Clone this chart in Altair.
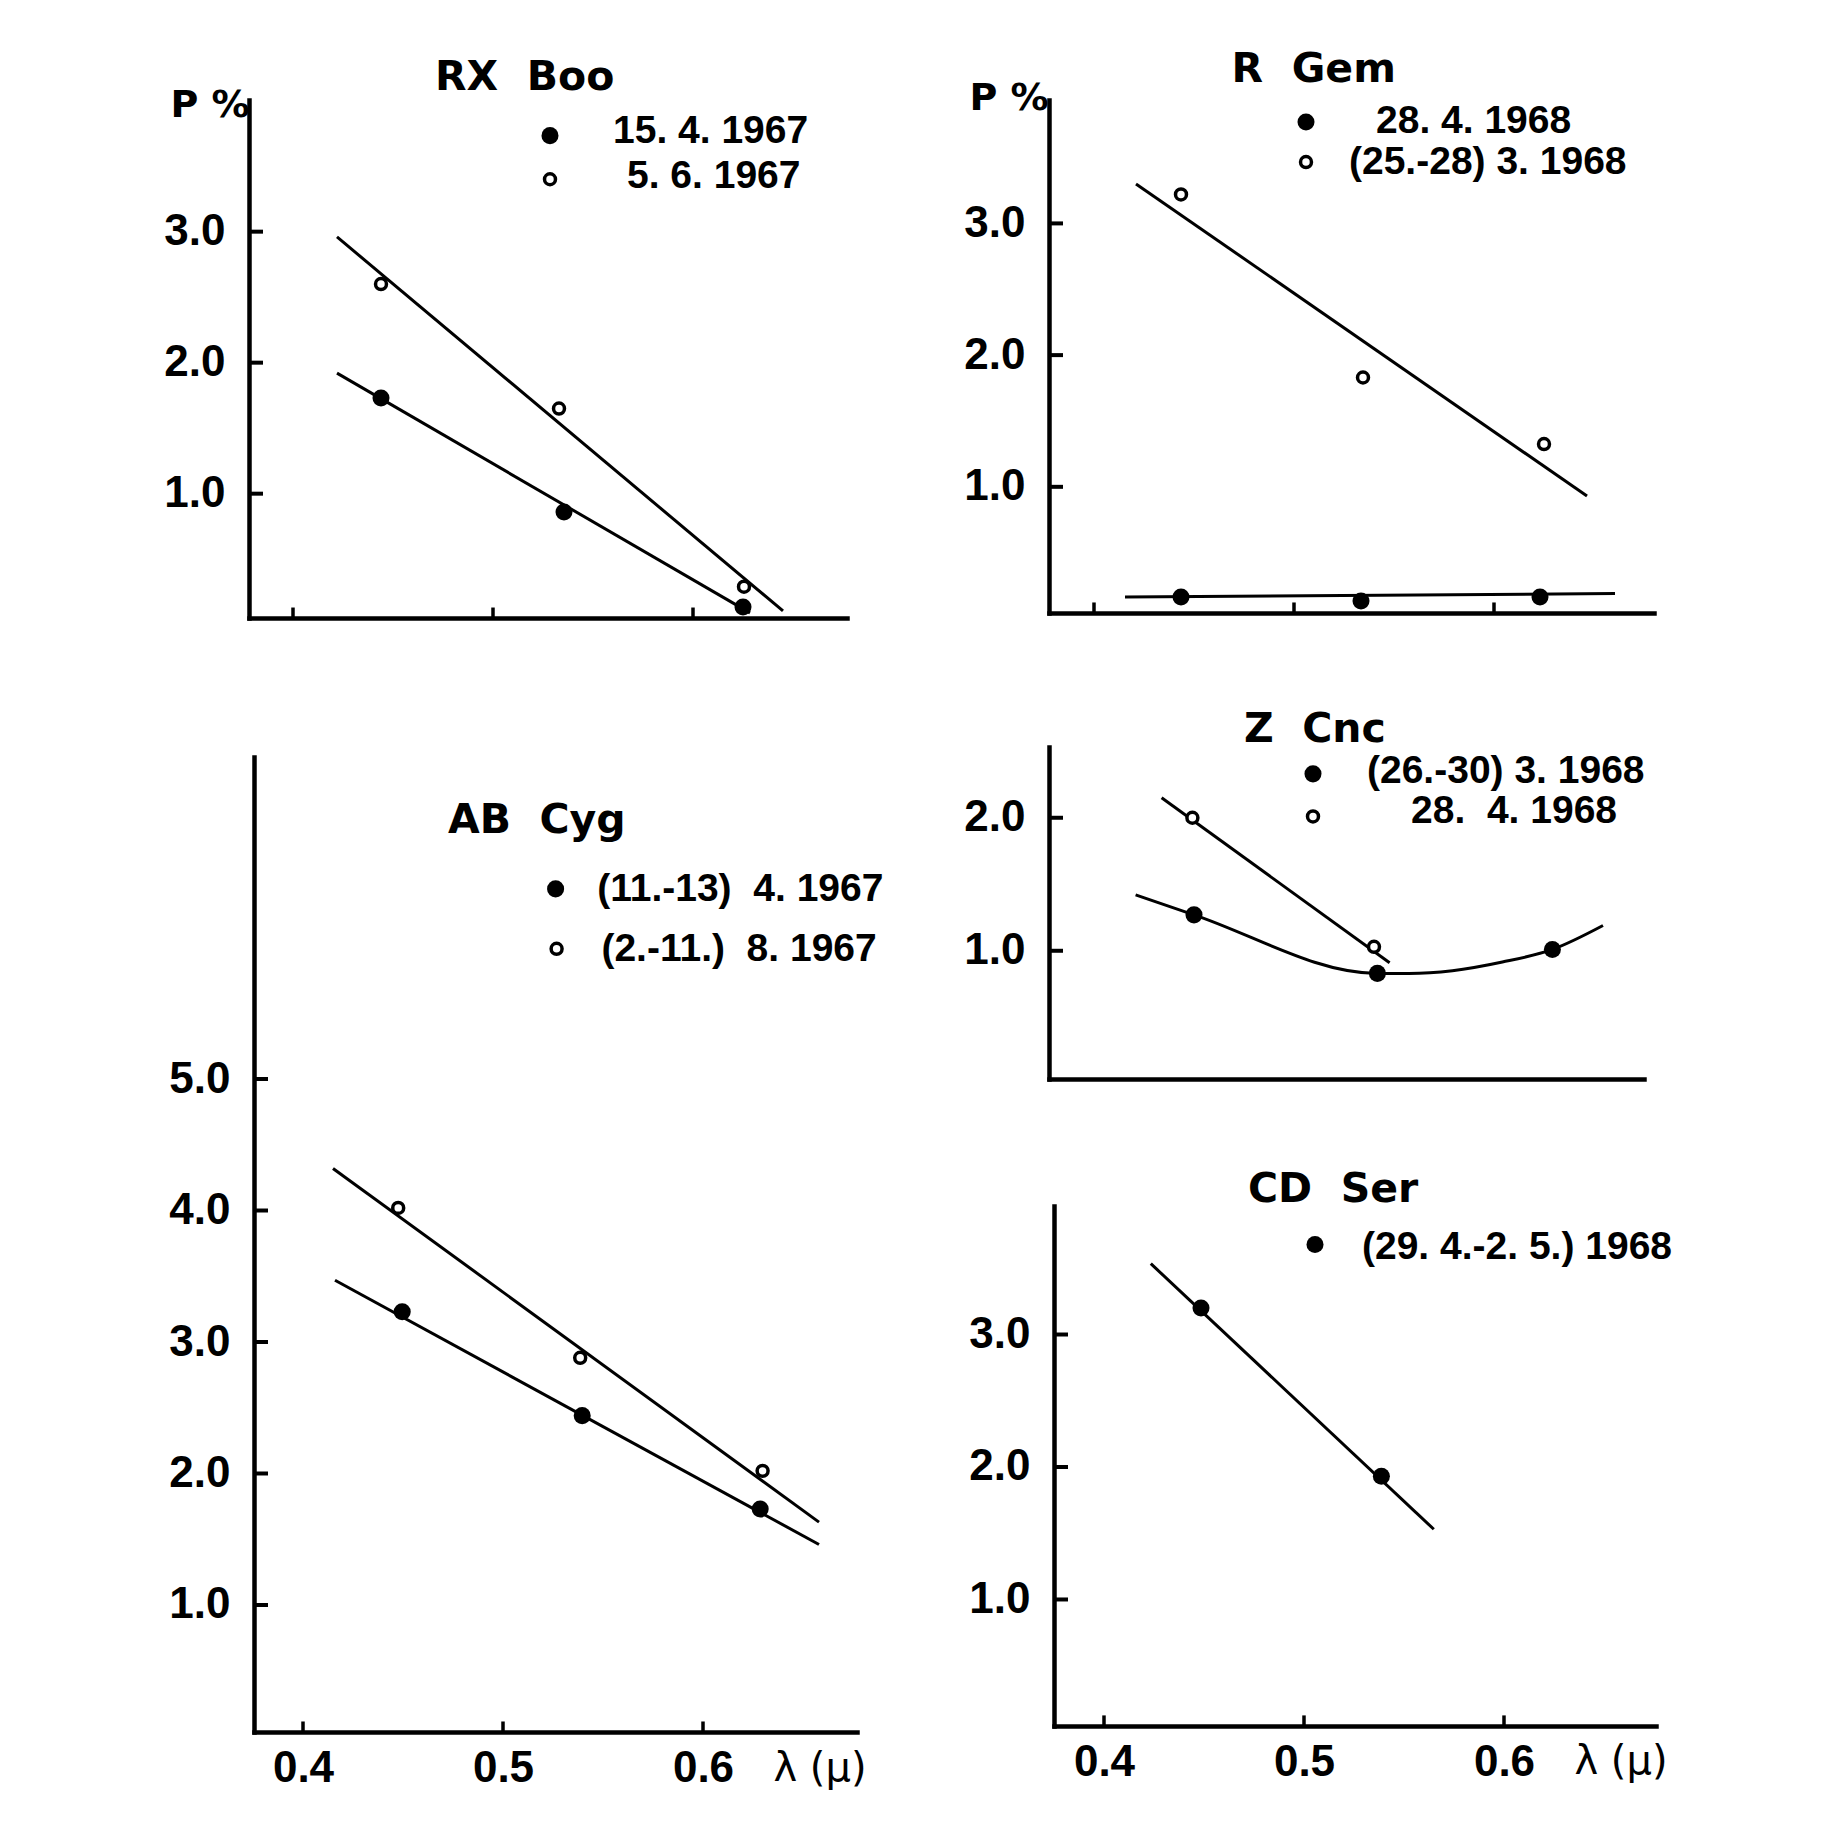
import altair as alt
import pandas as pd

NUM_FONT = "Liberation Sans, Arial, sans-serif"
TITLE_FONT = "DejaVu Sans, Liberation Sans, sans-serif"
NB = "\u00a0"

# ---------------- data ----------------
# RX Boo
rx_filled_x = [0.444, 0.5355, 0.625]
rx_filled_y = [1.73, 0.86, 0.135]
rx_open_x = [0.444, 0.533, 0.6255]
rx_open_y = [2.60, 1.65, 0.29]
rx_fitf_x = [0.422, 0.6285]
rx_fitf_y = [1.92, 0.09]
rx_fito_x = [0.422, 0.645]
rx_fito_y = [2.96, 0.105]

# R Gem
rg_filled_x = [0.4435, 0.5335, 0.623]
rg_filled_y = [0.163, 0.133, 0.163]
rg_open_x = [0.4435, 0.5345, 0.625]
rg_open_y = [3.22, 1.83, 1.325]
rg_fitf_x = [0.4155, 0.6605]
rg_fitf_y = [0.163, 0.19]
rg_fito_x = [0.421, 0.6465]
rg_fito_y = [3.30, 0.93]

# AB Cyg
ab_filled_x = [0.4496, 0.5396, 0.6286]
ab_filled_y = [3.23, 2.44, 1.73]
ab_open_x = [0.4476, 0.5386, 0.6298]
ab_open_y = [4.02, 2.88, 2.02]
ab_fitf_x = [0.416, 0.658]
ab_fitf_y = [3.47, 1.46]
ab_fito_x = [0.415, 0.658]
ab_fito_y = [4.32, 1.63]

# Z Cnc
zc_filled_x = [0.4475, 0.5392, 0.6267]
zc_filled_y = [1.27, 0.83, 1.01]
zc_open_x = [0.4467, 0.5375]
zc_open_y = [2.00, 1.03]
zc_fitf_x = [0.4183, 0.4475, 0.5392, 0.5550, 0.5767, 0.6017, 0.6267, 0.6520]
zc_fitf_y = [1.42, 1.27, 0.83, 0.83, 0.85, 0.915, 1.01, 1.19]
zc_fito_x = [0.4313, 0.5453]
zc_fito_y = [2.15, 0.91]

# CD Ser
cd_filled_x = [0.4485, 0.5387]
cd_filled_y = [3.20, 1.93]
cd_open_x = []
cd_open_y = []
cd_fitf_x = [0.4234, 0.5649]
cd_fitf_y = [3.535, 1.53]

x_tick_values = [0.4, 0.5, 0.6]

panels = [
    dict(key="rx", title="RX" + NB * 2 + "Boo", title_xy=(0.471, 4.17),
         xdom=[0.378, 0.677], ydom=[0.051, 4.005], width=598, height=518,
         yticks=[1.0, 2.0, 3.0], xlabels=False, xticks=True,
         filled=(rx_filled_x, rx_filled_y), opened=(rx_open_x, rx_open_y),
         fits=[(rx_fitf_x, rx_fitf_y), (rx_fito_x, rx_fito_y)],
         legend=[("f", 0.5285, 3.733, "15." + NB + "4." + NB + "1967", 0.560, 3.765),
                 ("o", 0.5285, 3.40, "5." + NB + "6." + NB + "1967", 0.567, 3.425)],
         pct=(0.3585, 3.96), lam=None),
    dict(key="ab", title="AB" + NB * 2 + "Cyg", title_xy=(0.4725, 6.96),
         xdom=[0.3755, 0.677], ydom=[0.034, 7.449], width=603, height=975,
         yticks=[1.0, 2.0, 3.0, 4.0, 5.0], xlabels=True, xticks=True,
         filled=(ab_filled_x, ab_filled_y), opened=(ab_open_x, ab_open_y),
         fits=[(ab_fitf_x, ab_fitf_y), (ab_fito_x, ab_fito_y)],
         legend=[("f", 0.5263, 6.446, "(11.-13)" + NB * 2 + "4." + NB + "1967", 0.5471, 6.446),
                 ("o", 0.5268, 5.99, "(2.-11.)" + NB * 2 + "8." + NB + "1967", 0.5492, 5.99)],
         pct=None, lam=(0.6585, -0.247)),
    dict(key="rg", title="R" + NB * 2 + "Gem", title_xy=(0.4688, 4.165),
         xdom=[0.3775, 0.68], ydom=[0.042, 3.937], width=605, height=513,
         yticks=[1.0, 2.0, 3.0], xlabels=False, xticks=True,
         filled=(rg_filled_x, rg_filled_y), opened=(rg_open_x, rg_open_y),
         fits=[(rg_fitf_x, rg_fitf_y), (rg_fito_x, rg_fito_y)],
         legend=[("f", 0.506, 3.77, "28." + NB + "4." + NB + "1968", 0.541, 3.777),
                 ("o", 0.506, 3.466, "(25.-28)" + NB + "3." + NB + "1968", 0.5275, 3.47)],
         pct=(0.3575, 3.945), lam=None),
    dict(key="zc", title="Z" + NB * 2 + "Cnc", title_xy=(0.4725, 2.66),
         xdom=[0.375, 0.6725], ydom=[0.036, 2.532], width=595, height=332,
         yticks=[1.0, 2.0], xlabels=False, xticks=False,
         filled=(zc_filled_x, zc_filled_y), opened=(zc_open_x, zc_open_y),
         fits=[(zc_fitf_x, zc_fitf_y), (zc_fito_x, zc_fito_y)],
         legend=[("f", 0.507, 2.33, "(26.-30)" + NB + "3." + NB + "1968", 0.534, 2.35),
                 ("o", 0.507, 2.01, "28." + NB * 2 + "4." + NB + "1968", 0.556, 2.05)],
         pct=None, lam=None),
    dict(key="cd", title="CD" + NB * 2 + "Ser", title_xy=(0.472, 4.09),
         xdom=[0.375, 0.676], ydom=[0.045, 3.970], width=602, height=520,
         yticks=[1.0, 2.0, 3.0], xlabels=True, xticks=True,
         filled=(cd_filled_x, cd_filled_y), opened=(cd_open_x, cd_open_y),
         fits=[(cd_fitf_x, cd_fitf_y)],
         legend=[("f", 0.5055, 3.68, "(29." + NB + "4.-2." + NB + "5.)" + NB + "1968", 0.529, 3.66)],
         pct=None, lam=(0.6585, -0.23)),
]


def build(p):
    xs = alt.Scale(domain=p["xdom"], nice=False, zero=False)
    ys = alt.Scale(domain=p["ydom"], nice=False, zero=False)
    common = dict(domain=True, domainColor="black", domainWidth=4.5, domainCap="square",
                  ticks=False, tickSize=0, grid=False, title=None,
                  labelFont=NUM_FONT, labelFontSize=44, labelFontWeight="bold",
                  labelColor="black", labelOverlap=False, labelFlush=False)
    if p["xlabels"]:
        xa = alt.Axis(values=x_tick_values, format=".1f", labelPadding=14, **common)
    else:
        xa = alt.Axis(labels=False, **common)
    ya = alt.Axis(values=p["yticks"], format=".1f", labelPadding=24, **common)

    def X():
        return alt.X("x:Q", scale=xs, axis=xa)

    def Y():
        return alt.Y("y:Q", scale=ys, axis=ya)

    layers = []
    xmin, ymin = p["xdom"][0], p["ydom"][0]

    # inward y ticks
    yt = pd.DataFrame({"y": p["yticks"], "x": [xmin] * len(p["yticks"]),
                       "x2": [xmin + 0.007] * len(p["yticks"])})
    layers.append(alt.Chart(yt).mark_rule(color="black", strokeWidth=4)
                  .encode(x=X(), x2="x2:Q", y=Y()))
    if p["xticks"]:
        xt = pd.DataFrame({"x": x_tick_values, "y": [ymin] * 3, "y2": [ymin + 0.08] * 3})
        layers.append(alt.Chart(xt).mark_rule(color="black", strokeWidth=3.5)
                      .encode(x=X(), y=Y(), y2="y2:Q"))

    # fit lines / curves
    rows = []
    for i, (fx, fy) in enumerate(p["fits"]):
        for a, b in zip(fx, fy):
            rows.append({"x": a, "y": b, "s": f"s{i}"})
    layers.append(alt.Chart(pd.DataFrame(rows))
                  .mark_line(color="black", strokeWidth=3, interpolate="monotone")
                  .encode(x=X(), y=Y(), detail="s:N"))

    # points (data + legend symbols)
    ox, oy = list(p["opened"][0]), list(p["opened"][1])
    fx, fy = list(p["filled"][0]), list(p["filled"][1])
    for kind, dx, dy, _, _, _ in p["legend"]:
        if kind == "o":
            ox.append(dx); oy.append(dy)
        else:
            fx.append(dx); fy.append(dy)
    if ox:
        layers.append(alt.Chart(pd.DataFrame({"x": ox, "y": oy}))
                      .mark_point(shape="circle", size=120, fill="white", fillOpacity=1,
                                  stroke="black", strokeWidth=3.5, opacity=1)
                      .encode(x=X(), y=Y()))
    layers.append(alt.Chart(pd.DataFrame({"x": fx, "y": fy}))
                  .mark_circle(size=290, color="black", opacity=1)
                  .encode(x=X(), y=Y()))

    # title
    tdf = pd.DataFrame({"x": [p["title_xy"][0]], "y": [p["title_xy"][1]], "t": [p["title"]]})
    layers.append(alt.Chart(tdf).mark_text(font=TITLE_FONT, fontSize=41, fontWeight="bold",
                                           align="left", baseline="middle", color="black")
                  .encode(x=X(), y=Y(), text="t:N"))
    # legend texts
    ldf = pd.DataFrame({"x": [e[4] for e in p["legend"]], "y": [e[5] for e in p["legend"]],
                        "t": [e[3] for e in p["legend"]]})
    layers.append(alt.Chart(ldf).mark_text(font=NUM_FONT, fontSize=39, fontWeight="bold",
                                           align="left", baseline="middle", color="black")
                  .encode(x=X(), y=Y(), text="t:N"))
    if p["pct"]:
        pdf = pd.DataFrame({"x": [p["pct"][0]], "y": [p["pct"][1]], "t": ["P" + NB + "%"]})
        layers.append(alt.Chart(pdf).mark_text(font=TITLE_FONT, fontSize=38, fontWeight="bold",
                                               align="center", baseline="middle", color="black")
                      .encode(x=X(), y=Y(), text="t:N"))
    if p["lam"]:
        mdf = pd.DataFrame({"x": [p["lam"][0]], "y": [p["lam"][1]], "t": ["λ" + NB + "(μ)"]})
        layers.append(alt.Chart(mdf).mark_text(font=TITLE_FONT, fontSize=40,
                                               align="center", baseline="middle", color="black")
                      .encode(x=X(), y=Y(), text="t:N"))

    return alt.layer(*layers).properties(width=p["width"], height=p["height"])


def spacer():
    d = pd.DataFrame({"v": [0]})
    return alt.Chart(d).mark_point(opacity=0).encode(
        x=alt.X("v:Q", axis=None), y=alt.Y("v:Q", axis=None)
    ).properties(width=1, height=1)


ch = {p["key"]: build(p) for p in panels}

# AB Cyg and CD Ser sit a few pixels right of the panels above them
left = alt.vconcat(ch["rx"], alt.hconcat(spacer(), ch["ab"], spacing=4, bounds="flush"),
                   spacing=139, bounds="flush")
right = alt.vconcat(
    ch["rg"],
    alt.vconcat(ch["zc"], alt.hconcat(spacer(), ch["cd"], spacing=4, bounds="flush"),
                spacing=127, bounds="flush"),
    spacing=134, bounds="flush")
# with flush bounds a nested column counts as zero width, so the spacing is the
# full offset between the two columns' plot origins
chart = alt.hconcat(left, right, spacing=800, bounds="flush").properties(
    padding={"left": 155, "top": 40, "right": 5, "bottom": 5},
    background="white",
).configure_view(stroke=None)

chart.save("out.html", embed_options={"renderer": "svg", "actions": False})
